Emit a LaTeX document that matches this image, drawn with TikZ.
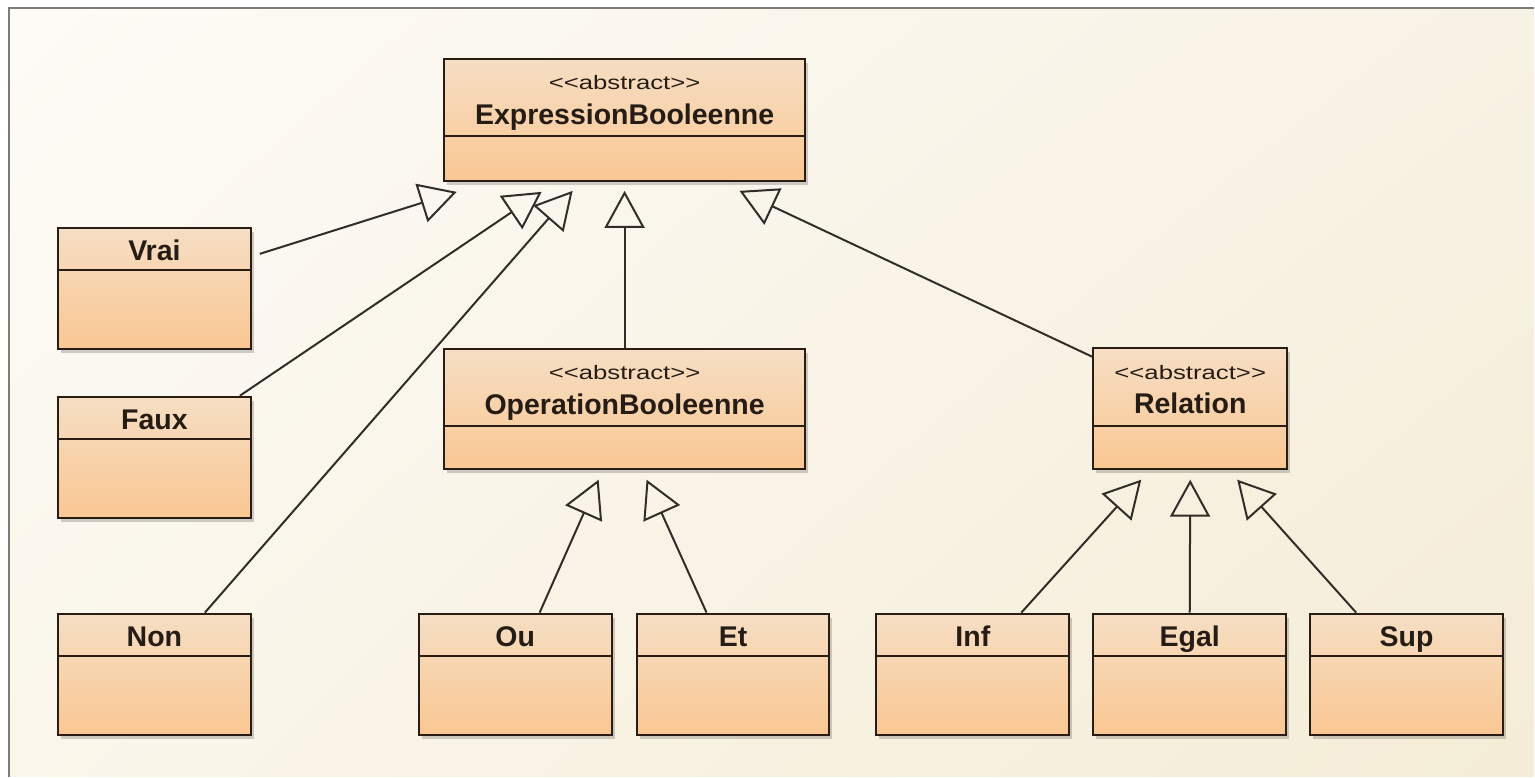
\documentclass[tikz,border=0pt]{standalone}
\usepackage{fontspec}
\setmainfont{Liberation Sans}
\usetikzlibrary{arrows.meta,calc,shadows,shadings}
\definecolor{bgtl}{RGB}{253,251,246}
\definecolor{bgtr}{RGB}{248,242,228}
\definecolor{bgbl}{RGB}{250,246,235}
\definecolor{bgbr}{RGB}{244,236,214}
\definecolor{framegrey}{RGB}{125,124,116}
\definecolor{boxline}{RGB}{40,28,20}
\definecolor{boxtop}{RGB}{246,222,196}
\definecolor{boxbot}{RGB}{249,199,146}
\definecolor{txt}{RGB}{38,28,22}
\definecolor{conn}{RGB}{50,45,40}
\begin{document}
\begin{tikzpicture}[x=1pt,y=-1pt,
  cls/.style={draw=boxline, line width=2pt, top color=boxtop, bottom color=boxbot,
    inner sep=0pt, anchor=north west,
    drop shadow={shadow xshift=3pt, shadow yshift=-4pt, opacity=0.18, fill=black}},
  small/.style={cls, minimum width=193pt, minimum height=121pt},
  divl/.style={draw=boxline, line width=2pt},
  nm/.style={font=\fontsize{28.5}{31}\selectfont\bfseries, text=txt, inner sep=0pt, anchor=base},
  stereo/.style={font=\fontsize{19.5}{22}\selectfont, text=txt, inner sep=0pt, anchor=base},
  gen/.style={draw=conn, line width=2pt, -{Triangle[open, length=37pt, width=40pt, line width=2pt]}}
]
% background and frame
\fill[white] (0,0) rectangle (1535,777);
\shade[upper left=bgtl, upper right=bgtr, lower left=bgbl, lower right=bgbr] (9,8) rectangle (1535,777);
\draw[framegrey, line width=2pt] (9,777) -- (9,8) -- (1535,8);

% abstract classes
\node[cls, minimum width=362pt, minimum height=122pt] (eb) at (443,58) {};
\draw[divl] ($(eb.north west)+(0,78)$) -- ($(eb.north east)+(0,78)$);
\node[stereo] (eb-s) at ($(eb.north)+(0,32)$) {\scalebox{1.32}[1]{<{}<abstract>{}>}};
\node[nm] (eb-t) at ($(eb.north)+(0,67)$) {ExpressionBooleenne};

\node[cls, minimum width=362pt, minimum height=120pt] (ob) at (443,348) {};
\draw[divl] ($(ob.north west)+(0,78)$) -- ($(ob.north east)+(0,78)$);
\node[stereo] (ob-s) at ($(ob.north)+(0,32)$) {\scalebox{1.32}[1]{<{}<abstract>{}>}};
\node[nm] (ob-t) at ($(ob.north)+(0,67)$) {OperationBooleenne};

\node[cls, minimum width=194pt, minimum height=121pt] (rel) at (1093,347) {};
\draw[divl] ($(rel.north west)+(0,79)$) -- ($(rel.north east)+(0,79)$);
\node[stereo] (rel-s) at ($(rel.north)+(0,33)$) {\scalebox{1.32}[1]{<{}<abstract>{}>}};
\node[nm] (rel-t) at ($(rel.north)+(0,67)$) {Relation};

% concrete classes
\foreach \n/\t/\x/\y in {vrai/Vrai/57/227, faux/Faux/57/396, non/Non/57/613,
    ou/Ou/418/613, et/Et/636/613, inf/Inf/876/613, egal/Egal/1093/613, sup/Sup/1310/613}{
  \node[small] (\n) at (\x,\y) {};
  \draw[divl] ($(\n.north west)+(0,43)$) -- ($(\n.north east)+(0,43)$);
  \node[nm] (\n-t) at ($(\n.north)+(0,34)$) {\t};
}

% generalisations
\draw[gen] ($(vrai.north east)+(8,27)$) -- ($(eb.south west)+(14,10)$);
\draw[gen] ($(faux.north east)+(-12,0)$) -- ($(eb.south west)+(99,10)$);
\draw[gen] ($(non.north west)+(148,0)$) -- ($(eb.south west)+(130,9)$);
\draw[gen] (ob.north) -- ($(eb.south)+(0,9)$);
\draw[gen] ($(rel.north west)+(0,10)$) -- ($(eb.south east)+(-67,9)$);

\draw[gen] ($(ou.north west)+(122,0)$) -- ($(ob.south west)+(156,10)$);
\draw[gen] ($(et.north west)+(71,0)$) -- ($(ob.south west)+(204,10)$);

\draw[gen] ($(inf.north west)+(146,0)$) -- ($(rel.south west)+(49,10)$);
\draw[gen] (egal.north) -- ($(rel.south)+(0,10)$);
\draw[gen] ($(sup.north west)+(47,0)$) -- ($(rel.south west)+(145,10)$);
\end{tikzpicture}
\end{document}
